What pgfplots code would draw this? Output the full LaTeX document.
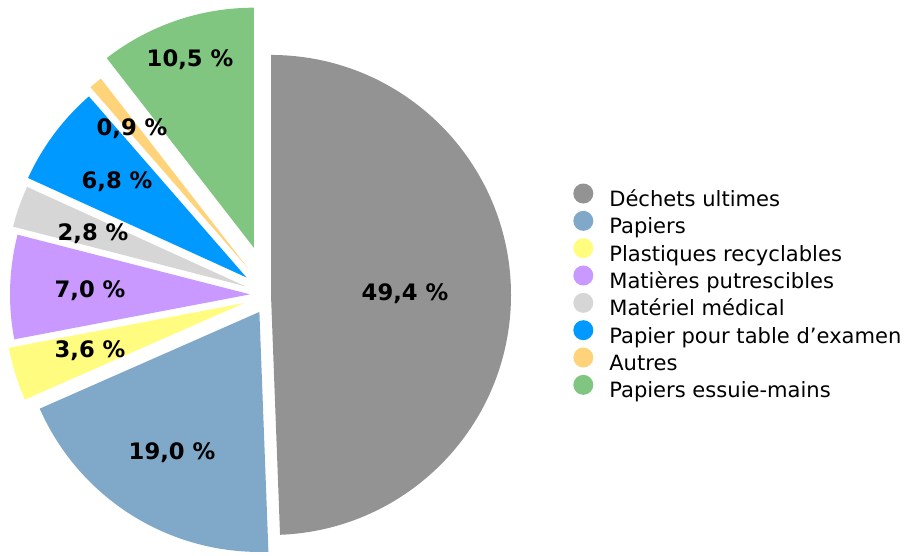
\documentclass[border=0pt]{standalone}
\usepackage{fontspec}
\setmainfont{DejaVu Sans}
\usepackage{pgfplots}
\usepackage{pgfplotstable}
\pgfplotsset{compat=1.18}

\definecolor{cDech}{RGB}{147,147,147}
\definecolor{cPap}{RGB}{128,168,201}
\definecolor{cPlas}{RGB}{255,252,128}
\definecolor{cPutr}{RGB}{201,153,255}
\definecolor{cMed}{RGB}{214,214,214}
\definecolor{cTab}{RGB}{0,153,255}
\definecolor{cAut}{RGB}{255,211,122}
\definecolor{cEss}{RGB}{128,198,128}

% value in %, explode and label position in px of the 907x552 frame
\pgfplotstableread[col sep=comma]{
value,explode,lx,ly
49.4,0.75,405,258
19.0,15,172,99
3.6,20,90,201
7.0,15,90,261
2.8,19.5,93,318
6.8,22,117,370
0.9,26,132,423
10.5,37.5,190,492
}\piedata
\def\pieColors{{"cDech","cPap","cPlas","cPutr","cMed","cTab","cAut","cEss"}}

\begin{document}
\begin{tikzpicture}
\begin{axis}[
  x=0.75pt, y=0.75pt,
  xmin=0, xmax=907, ymin=0, ymax=552,
  scale only axis, hide axis, clip=false,
  legend image code/.code={\fill[#1,draw=none] (7.5pt,5.5pt) circle[radius=7.5pt];},
  legend cell align=left,
  legend style={at={(0.6318,0.668)}, anchor=north west, draw=none, fill=none,
    inner sep=0pt, row sep=-2.75pt, column sep=12pt,
    font=\fontsize{15.8pt}{18pt}\selectfont,
    nodes={inner sep=0pt, text height=14.5pt, text depth=6pt}},
]
\path (axis cs:0,0) rectangle (axis cs:907,552);
\pgfplotsextra{
  \pgfplotstablegetrowsof{\piedata}
  \pgfmathtruncatemacro\lastrow{\pgfplotsretval-1}
  \gdef\cum{0}
  \foreach \i in {0,...,\lastrow}{
    \pgfplotstablegetelem{\i}{value}\of\piedata \let\v\pgfplotsretval
    \pgfplotstablegetelem{\i}{explode}\of\piedata \let\ex\pgfplotsretval
    \pgfmathsetmacro\col{\pieColors[\i]}
    \pgfmathsetmacro\ta{90-3.6*\cum}
    \pgfmathsetmacro\tb{90-3.6*(\cum+\v)}
    \pgfmathsetmacro\tm{(\ta+\tb)/2}
    \fill[fill=\col, shift={(axis cs:270,257)}]
      ({\tm}:{\ex pt}) -- ++({\ta}:180pt)
      arc[start angle=\ta, end angle=\tb, radius=180pt] -- cycle;
    \pgfmathsetmacro\newcum{\cum+\v}
    \xdef\cum{\newcum}
  }
  \foreach \i in {0,...,\lastrow}{
    \pgfplotstablegetelem{\i}{value}\of\piedata \let\v\pgfplotsretval
    \pgfplotstablegetelem{\i}{lx}\of\piedata \let\lx\pgfplotsretval
    \pgfplotstablegetelem{\i}{ly}\of\piedata \let\ly\pgfplotsretval
    \node[font=\fontsize{17pt}{20pt}\selectfont\bfseries] at (axis cs:\lx,\ly)
      {\pgfmathprintnumber[fixed,precision=1,zerofill,use comma,assume math mode=true]{\v}~\%};
  }
}
\addlegendimage{fill=cDech}\addlegendentry{Déchets ultimes}
\addlegendimage{fill=cPap}\addlegendentry{Papiers}
\addlegendimage{fill=cPlas}\addlegendentry{Plastiques recyclables}
\addlegendimage{fill=cPutr}\addlegendentry{Matières putrescibles}
\addlegendimage{fill=cMed}\addlegendentry{Matériel médical}
\addlegendimage{fill=cTab}\addlegendentry{Papier pour table d’examen}
\addlegendimage{fill=cAut}\addlegendentry{Autres}
\addlegendimage{fill=cEss}\addlegendentry{Papiers essuie-mains}
\end{axis}
\end{tikzpicture}
\end{document}
